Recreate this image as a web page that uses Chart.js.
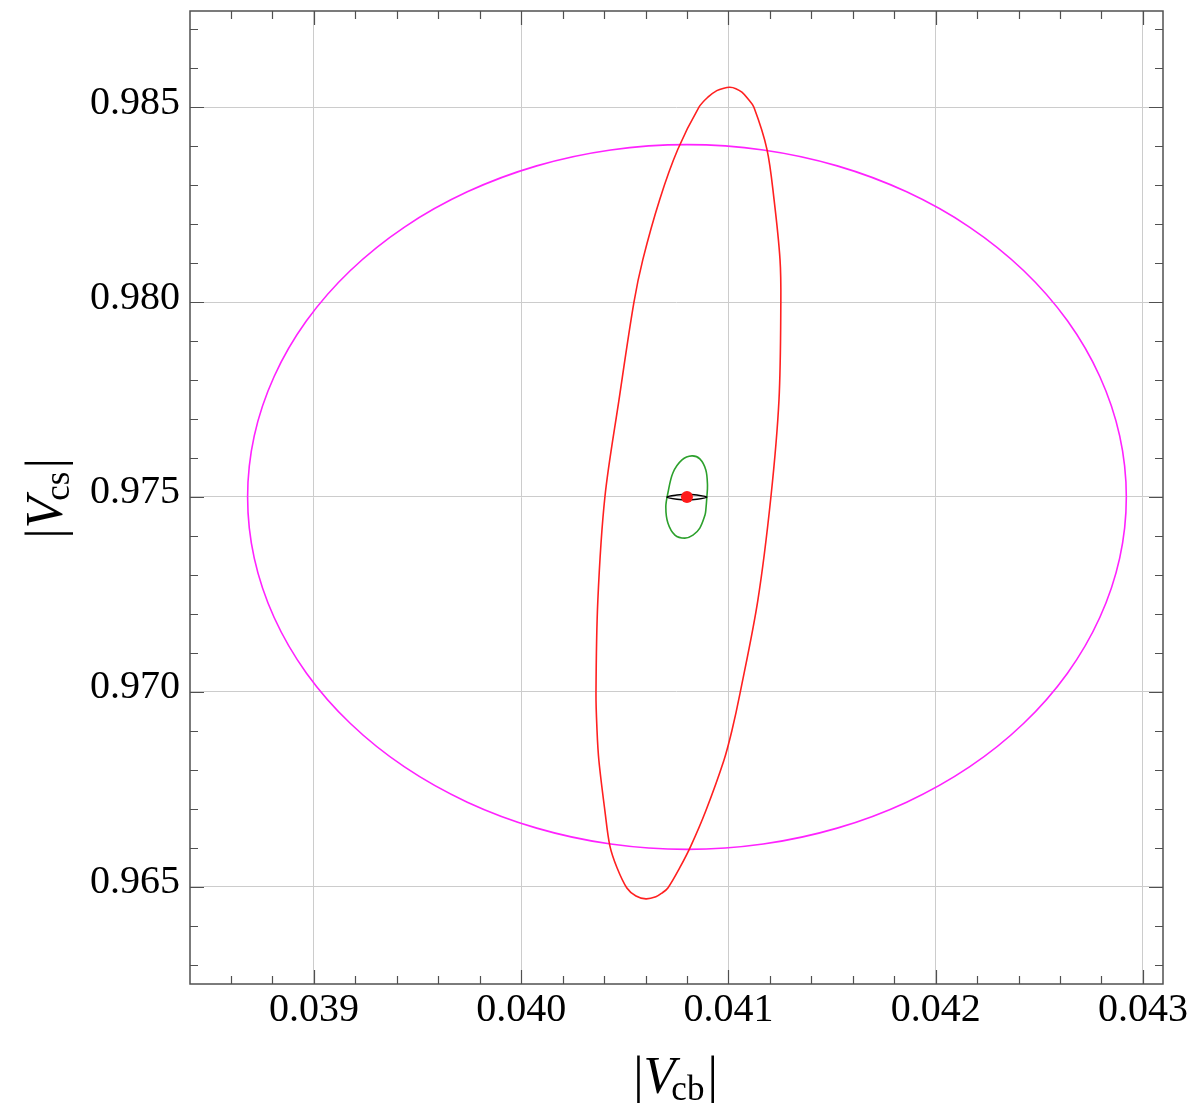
<!DOCTYPE html>
<html>
<head>
<meta charset="utf-8">
<script src="https://cdn.jsdelivr.net/npm/chart.js@4.4.0/dist/chart.umd.min.js"></script>
<style>
body { margin: 0; background: #fff; }
</style>
</head>
<body>
<canvas id="chart" width="1198" height="1103"></canvas>
<script>
// axis ranges and ticks
const xRange = [0.038402, 0.043097]
const yRange = [0.962506, 0.987468]
const xMajorTicks = [0.039, 0.040, 0.041, 0.042, 0.043]
const yMajorTicks = [0.965, 0.970, 0.975, 0.980, 0.985]
const xMinorTicks = [0.0386, 0.0388, 0.0392, 0.0394, 0.0396, 0.0398, 0.0402, 0.0404, 0.0406, 0.0408,
    0.0412, 0.0414, 0.0416, 0.0418, 0.0422, 0.0424, 0.0426, 0.0428]
const yMinorTicks = [0.963, 0.964, 0.966, 0.967, 0.968, 0.969, 0.971, 0.972, 0.973, 0.974,
    0.976, 0.977, 0.978, 0.979, 0.981, 0.982, 0.983, 0.984, 0.986, 0.987]

// best fit point
const bestFit = [[0.0408, 0.975]]

// black contour (thin lens)
const blackCurve = [
    [0.040703, 0.97500], [0.040752, 0.97505], [0.040800, 0.97507], [0.040848, 0.97505],
    [0.040896, 0.97500], [0.040848, 0.97494], [0.040800, 0.97492], [0.040752, 0.97494]
]

// green contour
const greenCurve = [
    [0.040824, 0.976054], [0.040862, 0.975977], [0.040891, 0.975694], [0.040899, 0.975308],
    [0.040896, 0.975000], [0.040891, 0.974666], [0.040887, 0.974537], [0.040862, 0.974203],
    [0.040829, 0.974023], [0.040790, 0.973946], [0.040742, 0.974023], [0.040708, 0.974332],
    [0.040698, 0.974743], [0.040708, 0.975103], [0.040732, 0.975617], [0.040776, 0.975951]
]

// red contour
const redCurve = [
    [0.041007, 0.985510], [0.041036, 0.985476], [0.041065, 0.985386], [0.041094, 0.985219],
    [0.041123, 0.985000], [0.041186, 0.983920], [0.041220, 0.982640], [0.041249, 0.981090],
    [0.041253, 0.979990], [0.041244, 0.977490], [0.041205, 0.975000], [0.041142, 0.972350],
    [0.041056, 0.969960], [0.041017, 0.969010], [0.040978, 0.968240], [0.040891, 0.966950],
    [0.040819, 0.966050], [0.040766, 0.965496], [0.040708, 0.964970], [0.040679, 0.964838],
    [0.040650, 0.964743], [0.040602, 0.964690], [0.040554, 0.964763], [0.040510, 0.964970],
    [0.040462, 0.965496], [0.040428, 0.966050], [0.040404, 0.966950], [0.040375, 0.968240],
    [0.040366, 0.969010], [0.040361, 0.969960], [0.040370, 0.972350], [0.040404, 0.975000],
    [0.040472, 0.977490], [0.040544, 0.979990], [0.040587, 0.981090], [0.040669, 0.982640],
    [0.040756, 0.983920], [0.040858, 0.985000], [0.040901, 0.985257], [0.040944, 0.985424],
    [0.040978, 0.985488]
]

// magenta contour
const magentaCurve = [
    [0.042920, 0.975000], [0.042888, 0.976569], [0.042792, 0.978092], [0.042636, 0.979520],
    [0.042424, 0.980811], [0.042163, 0.981925], [0.041860, 0.982829], [0.041525, 0.983495],
    [0.041168, 0.983903], [0.040800, 0.984040], [0.040432, 0.983903], [0.040075, 0.983495],
    [0.039740, 0.982829], [0.039437, 0.981925], [0.039176, 0.980811], [0.038964, 0.979520],
    [0.038808, 0.978092], [0.038712, 0.976569], [0.038680, 0.975000], [0.038712, 0.973431],
    [0.038808, 0.971908], [0.038964, 0.970480], [0.039176, 0.969189], [0.039437, 0.968075],
    [0.039740, 0.967171], [0.040075, 0.966505], [0.040432, 0.966097], [0.040800, 0.965960],
    [0.041168, 0.966097], [0.041525, 0.966505], [0.041860, 0.967171], [0.042163, 0.968075],
    [0.042424, 0.969189], [0.042636, 0.970480], [0.042792, 0.971908], [0.042888, 0.973431]
]

// closed contour: wrap points around both ends, the wrap segments are hidden
function curve(arr, color) {
    const n = arr.length
    const pts = [arr[n - 1]].concat(arr, [arr[0], arr[1]])
    return {
        data: pts.map(p => ({x: p[0], y: p[1]})),
        showLine: true,
        borderColor: color,
        borderWidth: 1.6,
        pointRadius: 0,
        tension: 0.33,
        fill: false,
        segment: {
            borderColor: c => (c.p0DataIndex === 0 || c.p0DataIndex === n + 1) ? 'rgba(0,0,0,0)' : undefined
        }
    }
}

const serif = "'Liberation Serif', 'DejaVu Serif', serif"

// frame with inward ticks on all sides
const frameTicks = {
    id: 'frameTicks',
    afterDatasetsDraw(chart) {
        const ctx = chart.ctx
        const a = chart.chartArea
        const xs = chart.scales.x
        const ys = chart.scales.y
        ctx.save()
        ctx.strokeStyle = '#505050'
        ctx.lineWidth = 1.2
        ctx.beginPath()
        xMajorTicks.concat(xMinorTicks).forEach(v => {
            const len = xMajorTicks.includes(v) ? 14 : 8
            const px = Math.round(xs.getPixelForValue(v)) + 0.5
            ctx.moveTo(px, a.bottom); ctx.lineTo(px, a.bottom - len)
            ctx.moveTo(px, a.top); ctx.lineTo(px, a.top + len)
        })
        yMajorTicks.concat(yMinorTicks).forEach(v => {
            const len = yMajorTicks.includes(v) ? 14 : 8
            const py = Math.round(ys.getPixelForValue(v)) + 0.5
            ctx.moveTo(a.left, py); ctx.lineTo(a.left + len, py)
            ctx.moveTo(a.right, py); ctx.lineTo(a.right - len, py)
        })
        ctx.stroke()
        ctx.lineWidth = 1.5
        ctx.strokeRect(a.left, a.top, a.right - a.left, a.bottom - a.top)
        ctx.restore()
    }
}

// axis titles |V_cb| and |V_cs| with subscripts
function drawTitle(ctx, sub, cx, baseline) {
    const big = '52px ' + serif
    const bigI = 'italic 52px ' + serif
    const small = '35px ' + serif
    const parts = [
        {t: '|', f: big, dy: 0},
        {t: 'V', f: bigI, dy: 0},
        {t: sub, f: small, dy: 7},
        {t: '|', f: big, dy: 0}
    ]
    let w = 0
    parts.forEach(p => { ctx.font = p.f; p.w = ctx.measureText(p.t).width; w += p.w })
    w += 2
    let x = cx - w / 2
    parts.forEach((p, i) => {
        ctx.font = p.f
        ctx.fillText(p.t, x, baseline + p.dy)
        x += p.w
        if (i === 1) x -= 4
        if (i === 2) x += 3
    })
}

const axisTitles = {
    id: 'axisTitles',
    afterDraw(chart) {
        const ctx = chart.ctx
        ctx.save()
        ctx.fillStyle = '#000'
        ctx.textBaseline = 'alphabetic'
        ctx.textAlign = 'left'
        drawTitle(ctx, 'cb', 677, 1093)
        ctx.translate(62, 497)
        ctx.rotate(-Math.PI / 2)
        drawTitle(ctx, 'cs', 0, 0)
        ctx.restore()
    }
}

function noPad(s) {
    s.paddingTop = 0
    s.paddingBottom = 0
    s.paddingLeft = 0
    s.paddingRight = 0
}

const ctx = document.getElementById('chart')
new Chart(ctx, {
    type: 'scatter',
    data: {
        datasets: [
            {
                data: bestFit.map(p => ({x: p[0], y: p[1]})),
                pointRadius: 6,
                pointBackgroundColor: '#ff1a1a',
                pointBorderWidth: 0,
                showLine: false
            },
            curve(blackCurve, '#000000'),
            curve(greenCurve, '#2ca02c'),
            curve(redCurve, '#ff2020'),
            curve(magentaCurve, '#ff22ff')
        ]
    },
    options: {
        responsive: false,
        animation: false,
        devicePixelRatio: 1,
        layout: {
            padding: {left: 0, top: 11, right: 35, bottom: 0}
        },
        plugins: {
            legend: {display: false},
            tooltip: {enabled: false}
        },
        scales: {
            x: {
                type: 'linear',
                min: xRange[0],
                max: xRange[1],
                afterBuildTicks: s => { s.ticks = xMajorTicks.map(v => ({value: v})) },
                afterFit: s => { s.height = 1103 - 984; noPad(s) },
                grid: {color: '#cccccc', lineWidth: 1, drawTicks: false},
                border: {display: false},
                ticks: {
                    padding: 2,
                    color: '#000',
                    font: {family: serif, size: 40},
                    maxRotation: 0,
                    autoSkip: false,
                    callback: v => v.toFixed(3)
                }
            },
            y: {
                type: 'linear',
                min: yRange[0],
                max: yRange[1],
                afterBuildTicks: s => { s.ticks = yMajorTicks.map(v => ({value: v})) },
                afterFit: s => { s.width = 190; noPad(s) },
                grid: {color: '#cccccc', lineWidth: 1, drawTicks: false},
                border: {display: false},
                ticks: {
                    padding: 10,
                    labelOffset: -4,
                    color: '#000',
                    font: {family: serif, size: 40},
                    autoSkip: false,
                    callback: v => v.toFixed(3)
                }
            }
        }
    },
    plugins: [frameTicks, axisTitles]
})
</script>
</body>
</html>
